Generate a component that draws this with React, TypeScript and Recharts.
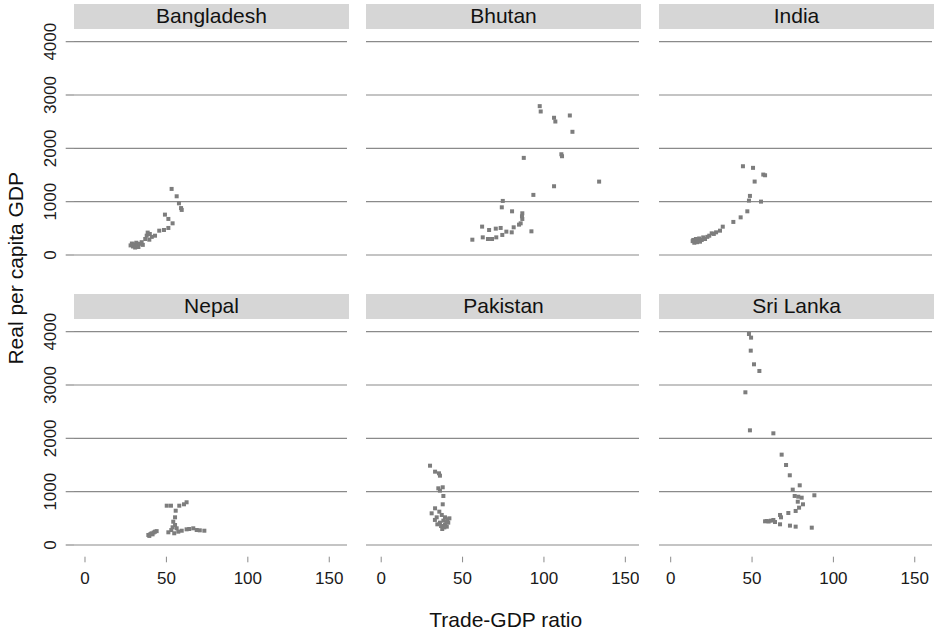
import React from 'react';
import { ScatterChart, Scatter, XAxis, YAxis, ReferenceLine } from 'recharts';

type Pt = { x: number; y: number };

const countries = ['Bangladesh', 'Bhutan', 'India', 'Nepal', 'Pakistan', 'Sri Lanka'];
const xTicks = [0, 50, 100, 150];
const yTicks = [0, 1000, 2000, 3000, 4000];

const bangladesh: Pt[] = [
  { x: 28.0, y: 180 }, { x: 28.8, y: 215 }, { x: 29.5, y: 160 }, { x: 30.2, y: 200 }, { x: 30.8, y: 140 },
  { x: 31.5, y: 230 }, { x: 32.0, y: 175 }, { x: 32.8, y: 150 }, { x: 33.5, y: 210 }, { x: 34.8, y: 240 },
  { x: 35.5, y: 190 }, { x: 37.0, y: 300 }, { x: 37.9, y: 362 }, { x: 38.5, y: 420 }, { x: 39.5, y: 287 },
  { x: 39.8, y: 394 }, { x: 41.0, y: 340 }, { x: 43.0, y: 362 }, { x: 45.6, y: 456 }, { x: 48.5, y: 469 },
  { x: 51.2, y: 507 }, { x: 53.8, y: 594 }, { x: 51.2, y: 676 }, { x: 49.1, y: 757 }, { x: 53.2, y: 1239 },
  { x: 56.3, y: 1101 }, { x: 57.7, y: 969 }, { x: 59.0, y: 880 }, { x: 59.4, y: 845 },
];

const bhutan: Pt[] = [
  { x: 97.4, y: 2791 }, { x: 98.0, y: 2691 }, { x: 115.9, y: 2616 }, { x: 106.2, y: 2573 }, { x: 107.0, y: 2503 },
  { x: 117.5, y: 2310 }, { x: 110.7, y: 1889 }, { x: 111.1, y: 1852 }, { x: 87.6, y: 1821 }, { x: 133.9, y: 1376 },
  { x: 106.2, y: 1289 }, { x: 93.5, y: 1127 }, { x: 74.7, y: 1014 }, { x: 74.1, y: 894 }, { x: 80.4, y: 819 },
  { x: 86.7, y: 782 }, { x: 86.5, y: 725 }, { x: 86.7, y: 676 }, { x: 85.7, y: 594 }, { x: 84.7, y: 569 },
  { x: 81.4, y: 519 }, { x: 92.3, y: 444 }, { x: 62.0, y: 532 }, { x: 66.3, y: 469 }, { x: 70.4, y: 494 },
  { x: 73.4, y: 507 }, { x: 76.9, y: 438 }, { x: 80.2, y: 425 }, { x: 74.4, y: 376 }, { x: 70.7, y: 331 },
  { x: 68.1, y: 300 }, { x: 65.6, y: 300 }, { x: 62.4, y: 331 }, { x: 56.0, y: 287 },
];

const india: Pt[] = [
  { x: 44.4, y: 1664 }, { x: 50.6, y: 1634 }, { x: 56.9, y: 1508 }, { x: 58.0, y: 1495 }, { x: 51.6, y: 1377 },
  { x: 48.7, y: 1108 }, { x: 48.1, y: 1020 }, { x: 55.5, y: 1001 }, { x: 47.1, y: 819 }, { x: 43.0, y: 706 },
  { x: 38.5, y: 620 }, { x: 32.0, y: 531 }, { x: 30.3, y: 456 }, { x: 27.9, y: 425 }, { x: 25.2, y: 406 },
  { x: 23.7, y: 362 }, { x: 21.1, y: 300 }, { x: 19.1, y: 282 }, { x: 17.0, y: 269 }, { x: 14.9, y: 256 },
  { x: 13.9, y: 282 }, { x: 14.5, y: 230 }, { x: 15.5, y: 300 }, { x: 16.2, y: 240 }, { x: 17.5, y: 310 },
  { x: 18.0, y: 250 }, { x: 13.5, y: 260 }, { x: 20.0, y: 330 }, { x: 22.5, y: 340 }, { x: 26.5, y: 395 },
];

const nepal: Pt[] = [
  { x: 50.2, y: 737 }, { x: 52.8, y: 737 }, { x: 57.9, y: 737 }, { x: 60.8, y: 763 }, { x: 62.4, y: 801 },
  { x: 55.7, y: 643 }, { x: 55.3, y: 519 }, { x: 54.2, y: 437 }, { x: 55.3, y: 375 }, { x: 53.8, y: 332 },
  { x: 56.3, y: 313 }, { x: 51.2, y: 238 }, { x: 57.3, y: 250 }, { x: 59.4, y: 268 }, { x: 62.4, y: 294 },
  { x: 66.5, y: 313 }, { x: 68.6, y: 281 }, { x: 73.3, y: 268 }, { x: 38.9, y: 188 }, { x: 39.5, y: 170 },
  { x: 40.9, y: 219 }, { x: 41.5, y: 200 }, { x: 42.2, y: 235 }, { x: 43.0, y: 250 }, { x: 44.0, y: 260 },
  { x: 40.2, y: 205 }, { x: 53.0, y: 280 }, { x: 54.8, y: 220 }, { x: 64.0, y: 300 }, { x: 70.5, y: 275 },
];

const pakistan: Pt[] = [
  { x: 30.0, y: 1487 }, { x: 33.1, y: 1375 }, { x: 35.5, y: 1344 }, { x: 36.1, y: 1300 }, { x: 37.8, y: 1082 },
  { x: 35.1, y: 1063 }, { x: 36.1, y: 1019 }, { x: 38.2, y: 919 }, { x: 37.8, y: 763 }, { x: 33.1, y: 688 },
  { x: 31.0, y: 594 }, { x: 35.7, y: 625 }, { x: 34.1, y: 519 }, { x: 37.2, y: 563 }, { x: 39.2, y: 519 },
  { x: 40.6, y: 482 }, { x: 38.2, y: 457 }, { x: 36.1, y: 419 }, { x: 34.5, y: 388 }, { x: 39.2, y: 375 },
  { x: 41.2, y: 419 }, { x: 36.8, y: 356 }, { x: 40.3, y: 344 }, { x: 41.9, y: 500 }, { x: 37.5, y: 300 },
  { x: 33.0, y: 470 }, { x: 38.8, y: 330 }, { x: 40.0, y: 430 },
];

const sriLanka: Pt[] = [
  { x: 48.1, y: 3956 }, { x: 49.4, y: 3888 }, { x: 49.2, y: 3644 }, { x: 51.2, y: 3388 }, { x: 54.5, y: 3263 },
  { x: 45.9, y: 2863 }, { x: 48.7, y: 2150 }, { x: 63.1, y: 2094 }, { x: 68.2, y: 1694 }, { x: 70.9, y: 1500 },
  { x: 73.2, y: 1307 }, { x: 79.3, y: 1119 }, { x: 75.0, y: 1038 }, { x: 88.3, y: 932 }, { x: 76.2, y: 919 },
  { x: 78.4, y: 906 }, { x: 80.5, y: 887 }, { x: 78.1, y: 812 }, { x: 81.3, y: 763 }, { x: 78.9, y: 700 },
  { x: 76.8, y: 638 }, { x: 72.3, y: 600 }, { x: 67.2, y: 563 }, { x: 67.8, y: 519 }, { x: 63.1, y: 469 },
  { x: 61.5, y: 456 }, { x: 59.0, y: 450 }, { x: 58.0, y: 444 }, { x: 60.2, y: 440 }, { x: 64.1, y: 431 },
  { x: 67.2, y: 388 }, { x: 73.3, y: 363 }, { x: 76.8, y: 344 }, { x: 86.7, y: 325 },
];

const series: Pt[][] = [bangladesh, bhutan, india, nepal, pakistan, sriLanka];

// layout
const FONT = '"Liberation Sans", Arial, Helvetica, sans-serif';
const GRID = '#8a8a8a';
const MARK = '#7d7d7d';
const HEAD = '#d6d6d6';
const PLOT_W = 273;
const PLOT_H = 232;
const Y_AXIS_W = 74;
const TOP_PAD = 20;
const colLeft = [74, 366, 659];
const xDomains: [number, number][] = [[-6.75, 160.9], [-9.34, 158.4], [-7.19, 160.6]];
const yDomain: [number, number] = [-150, 4200];
const rowTop = [30.5, 321];
const headTop = [4, 294];
const headW = 275;
const headH = 25;

const Square = (props: any) => {
  const { cx, cy } = props;
  if (cx == null || cy == null) return null;
  return <rect x={cx - 2} y={cy - 2} width={4} height={4} fill={MARK} />;
};

const YTick = (props: any) => {
  const { x, y, payload } = props;
  const tx = x - 18;
  return (
    <g>
      <line x1={x - 8.3} x2={x} y1={y} y2={y} stroke={GRID} strokeWidth={1.2} />
      <text x={tx} y={y} transform={`rotate(-90, ${tx}, ${y})`} textAnchor="middle" fontSize={17} fontFamily={FONT} fill="#1a1a1a">
        {payload.value}
      </text>
    </g>
  );
};

const XTick = (props: any) => {
  const { x, y, payload } = props;
  return (
    <g>
      <line x1={x} x2={x} y1={y + 3.7} y2={y + 9.3} stroke={GRID} strokeWidth={1} />
      <text x={x} y={y + 31} textAnchor="middle" fontSize={17} fontFamily={FONT} fill="#1a1a1a">
        {payload.value}
      </text>
    </g>
  );
};

function Panel({ idx }: { idx: number }) {
  const col = idx % 3;
  const row = Math.floor(idx / 3);
  const showY = col === 0;
  const showX = row === 1;
  const width = (showY ? Y_AXIS_W : 0) + PLOT_W;
  const height = TOP_PAD + PLOT_H + (showX ? 50 : 0);
  const left = showY ? colLeft[0] - Y_AXIS_W : colLeft[col];
  return (
    <div style={{ position: 'absolute', left, top: rowTop[row] - TOP_PAD, width, height }}>
      <ScatterChart width={width} height={height} margin={{ top: TOP_PAD, right: 0, bottom: 0, left: 0 }}>
        <XAxis
          type="number"
          dataKey="x"
          domain={xDomains[col]}
          ticks={xTicks}
          allowDataOverflow
          hide={!showX}
          height={50}
          axisLine={false}
          tickLine={false}
          tickSize={0}
          tickMargin={0}
          tick={<XTick />}
          interval={0}
        />
        <YAxis
          type="number"
          dataKey="y"
          domain={yDomain}
          ticks={yTicks}
          allowDataOverflow
          width={showY ? Y_AXIS_W : 0}
          axisLine={false}
          tickLine={false}
          tickSize={0}
          tickMargin={0}
          tick={showY ? <YTick /> : false}
          interval={0}
        />
        {yTicks.map((v) => (
          <ReferenceLine key={v} y={v} stroke={GRID} strokeWidth={1.2} ifOverflow="visible" />
        ))}
        <Scatter data={series[idx]} shape={<Square />} isAnimationActive={false} />
      </ScatterChart>
    </div>
  );
}

export default function App() {
  return (
    <div style={{ position: 'absolute', left: 0, top: 0, width: 935, height: 631, background: '#fff', fontFamily: FONT }}>
      <svg width={935} height={631} style={{ position: 'absolute', left: 0, top: 0 }}>
        {countries.map((name, i) => {
          const col = i % 3;
          const row = Math.floor(i / 3);
          const hx = colLeft[col];
          return (
            <g key={name}>
              <rect x={hx} y={headTop[row]} width={headW} height={headH} fill={HEAD} />
              <text x={hx + headW / 2} y={headTop[row] + 19.4} textAnchor="middle" fontSize={21} fontFamily={FONT} fill="#111">
                {name}
              </text>
            </g>
          );
        })}
        <text x={23.3} y={268.3} transform="rotate(-90, 23.3, 268.3)" textAnchor="middle" fontSize={21} fontFamily={FONT} fill="#111">
          Real per capita GDP
        </text>
        <text x={505.7} y={626.7} textAnchor="middle" fontSize={21} fontFamily={FONT} fill="#111">
          Trade-GDP ratio
        </text>
      </svg>
      {countries.map((name, i) => (
        <Panel key={name} idx={i} />
      ))}
    </div>
  );
}
